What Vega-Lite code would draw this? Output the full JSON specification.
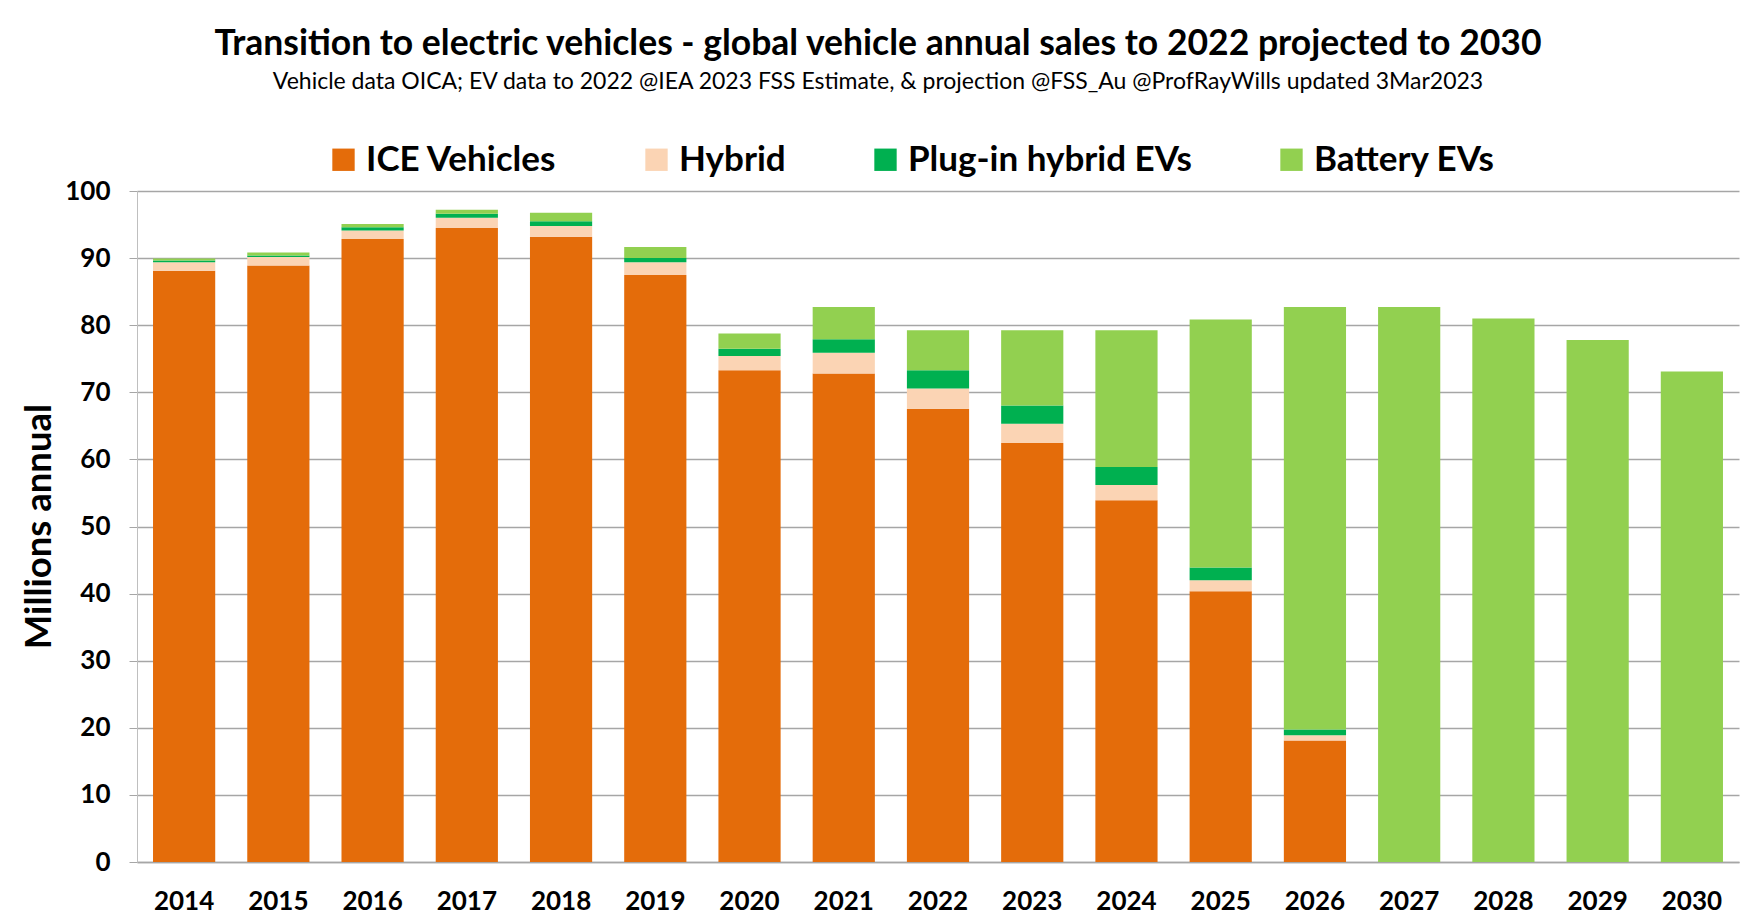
{
  "$schema": "https://vega.github.io/schema/vega-lite/v6.json",
  "autosize": {"type": "none"},
  "padding": {"left": 137, "top": 191, "right": 20, "bottom": 62},
  "width": 1602,
  "height": 671,
  "background": "white",
  "title": {
    "text": "Transition to electric vehicles  - global vehicle annual sales to 2022 projected to 2030",
    "subtitle": "Vehicle data OICA; EV data to 2022 @IEA  2023 FSS Estimate, & projection @FSS_Au @ProfRayWills updated 3Mar2023",
    "anchor": "middle",
    "dx": -60,
    "offset": 48,
    "font": "Lato",
    "fontSize": 35.5,
    "fontWeight": "bold",
    "color": "black",
    "subtitleFont": "Lato",
    "subtitleFontSize": 23,
    "subtitleColor": "black",
    "subtitlePadding": 9
  },
  "data": {
    "values": [
      {"year": "2014", "type": "ICE Vehicles", "value": 88.1},
      {"year": "2014", "type": "Hybrid", "value": 1.3},
      {"year": "2014", "type": "Plug-in hybrid EVs", "value": 0.25},
      {"year": "2014", "type": "Battery EVs", "value": 0.3},
      {"year": "2015", "type": "ICE Vehicles", "value": 88.9},
      {"year": "2015", "type": "Hybrid", "value": 1.25},
      {"year": "2015", "type": "Plug-in hybrid EVs", "value": 0.25},
      {"year": "2015", "type": "Battery EVs", "value": 0.45},
      {"year": "2016", "type": "ICE Vehicles", "value": 92.85},
      {"year": "2016", "type": "Hybrid", "value": 1.25},
      {"year": "2016", "type": "Plug-in hybrid EVs", "value": 0.5},
      {"year": "2016", "type": "Battery EVs", "value": 0.5},
      {"year": "2017", "type": "ICE Vehicles", "value": 94.5},
      {"year": "2017", "type": "Hybrid", "value": 1.5},
      {"year": "2017", "type": "Plug-in hybrid EVs", "value": 0.6},
      {"year": "2017", "type": "Battery EVs", "value": 0.6},
      {"year": "2018", "type": "ICE Vehicles", "value": 93.2},
      {"year": "2018", "type": "Hybrid", "value": 1.6},
      {"year": "2018", "type": "Plug-in hybrid EVs", "value": 0.7},
      {"year": "2018", "type": "Battery EVs", "value": 1.25},
      {"year": "2019", "type": "ICE Vehicles", "value": 87.5},
      {"year": "2019", "type": "Hybrid", "value": 1.9},
      {"year": "2019", "type": "Plug-in hybrid EVs", "value": 0.6},
      {"year": "2019", "type": "Battery EVs", "value": 1.65},
      {"year": "2020", "type": "ICE Vehicles", "value": 73.3},
      {"year": "2020", "type": "Hybrid", "value": 2.1},
      {"year": "2020", "type": "Plug-in hybrid EVs", "value": 1.1},
      {"year": "2020", "type": "Battery EVs", "value": 2.25},
      {"year": "2021", "type": "ICE Vehicles", "value": 72.8},
      {"year": "2021", "type": "Hybrid", "value": 3.1},
      {"year": "2021", "type": "Plug-in hybrid EVs", "value": 2.0},
      {"year": "2021", "type": "Battery EVs", "value": 4.8},
      {"year": "2022", "type": "ICE Vehicles", "value": 67.55},
      {"year": "2022", "type": "Hybrid", "value": 3.0},
      {"year": "2022", "type": "Plug-in hybrid EVs", "value": 2.75},
      {"year": "2022", "type": "Battery EVs", "value": 5.95},
      {"year": "2023", "type": "ICE Vehicles", "value": 62.45},
      {"year": "2023", "type": "Hybrid", "value": 2.85},
      {"year": "2023", "type": "Plug-in hybrid EVs", "value": 2.75},
      {"year": "2023", "type": "Battery EVs", "value": 11.2},
      {"year": "2024", "type": "ICE Vehicles", "value": 53.9},
      {"year": "2024", "type": "Hybrid", "value": 2.3},
      {"year": "2024", "type": "Plug-in hybrid EVs", "value": 2.65},
      {"year": "2024", "type": "Battery EVs", "value": 20.4},
      {"year": "2025", "type": "ICE Vehicles", "value": 40.35},
      {"year": "2025", "type": "Hybrid", "value": 1.65},
      {"year": "2025", "type": "Plug-in hybrid EVs", "value": 1.9},
      {"year": "2025", "type": "Battery EVs", "value": 36.95},
      {"year": "2026", "type": "ICE Vehicles", "value": 18.1},
      {"year": "2026", "type": "Hybrid", "value": 0.8},
      {"year": "2026", "type": "Plug-in hybrid EVs", "value": 0.85},
      {"year": "2026", "type": "Battery EVs", "value": 62.95},
      {"year": "2027", "type": "Battery EVs", "value": 82.7},
      {"year": "2028", "type": "Battery EVs", "value": 81.0},
      {"year": "2029", "type": "Battery EVs", "value": 77.8},
      {"year": "2030", "type": "Battery EVs", "value": 73.1}
    ]
  },
  "transform": [
    {"calculate": "indexof(['ICE Vehicles', 'Hybrid', 'Plug-in hybrid EVs', 'Battery EVs'], datum.type)", "as": "stack_order"}
  ],
  "mark": {"type": "bar"},
  "encoding": {
    "x": {
      "field": "year",
      "type": "ordinal",
      "title": null,
      "scale": {"paddingInner": 0.34, "paddingOuter": 0.17},
      "axis": {
        "labelAngle": 0,
        "labelFont": "Lato",
        "labelFontSize": 26,
        "labelFontWeight": "bold",
        "labelColor": "black",
        "labelPadding": 26,
        "ticks": false,
        "domainColor": "#A6A6A6",
        "domainWidth": 1.5
      }
    },
    "y": {
      "field": "value",
      "type": "quantitative",
      "stack": "zero",
      "title": "Millions annual",
      "scale": {"domain": [0, 100], "nice": false},
      "axis": {
        "values": [0, 10, 20, 30, 40, 50, 60, 70, 80, 90, 100],
        "grid": true,
        "gridColor": "#A6A6A6",
        "gridWidth": 1.5,
        "domainColor": "#BFBFBF",
        "tickColor": "#A6A6A6",
        "tickSize": 8,
        "labelPadding": 19,
        "labelFont": "Lato",
        "labelFontSize": 26,
        "labelFontWeight": "bold",
        "labelColor": "black",
        "titleFont": "Lato",
        "titleFontSize": 36.5,
        "titleFontWeight": "bold",
        "titleColor": "black",
        "titleX": -98,
        "titleY": 335,
        "titleAngle": 270,
        "titleAlign": "center",
        "titleBaseline": "middle"
      }
    },
    "color": {
      "field": "type",
      "type": "nominal",
      "sort": ["ICE Vehicles", "Hybrid", "Plug-in hybrid EVs", "Battery EVs"],
      "scale": {
        "domain": ["ICE Vehicles", "Hybrid", "Plug-in hybrid EVs", "Battery EVs"],
        "range": ["#E46C0A", "#FBD4B4", "#00B050", "#92D050"]
      },
      "legend": {
        "title": null,
        "orient": "none",
        "direction": "horizontal",
        "legendX": 189,
        "legendY": -49,
        "symbolType": "square",
        "symbolSize": 500,
        "symbolStrokeWidth": 0,
        "labelFont": "Lato",
        "labelFontSize": 35,
        "labelFontWeight": "bold",
        "labelColor": "black",
        "labelLimit": 0,
        "columnPadding": 82,
        "labelOffset": 5
      }
    },
    "order": {"field": "stack_order", "type": "quantitative", "sort": "ascending"}
  },
  "config": {
    "view": {"stroke": null}
  }
}
